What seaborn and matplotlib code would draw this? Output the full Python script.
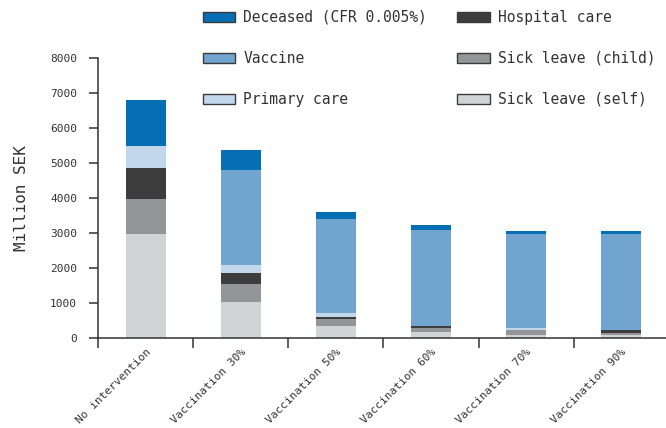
import matplotlib
matplotlib.use("Agg")
import matplotlib.pyplot as plt
from matplotlib.patches import Patch
from matplotlib.ticker import FixedLocator
import numpy as np
import seaborn as sns

categories = ["No intervention", "Vaccination 30%", "Vaccination 50%",
              "Vaccination 60%", "Vaccination 70%", "Vaccination 90%"]
# stacking order bottom -> top
sick_self = [2970, 1030, 343, 171, 86, 86]
sick_child = [1000, 513, 200, 115, 143, 57]
hospital = [886, 314, 57, 57, 0, 86]
primary = [629, 238, 114, 0, 57, 0]
vaccine = [0, 2705, 2686, 2743, 2685, 2742]
deceased = [1315, 571, 200, 143, 86, 86]

series_names = ["Sick leave (self)", "Sick leave (child)", "Hospital care",
                "Primary care", "Vaccine", "Deceased (CFR 0.005%)"]
series_values = [sick_self, sick_child, hospital, primary, vaccine, deceased]
series_colors = ["#d1d3d5", "#939598", "#3d3d3d", "#c2d7ec", "#71a5d0", "#066eb2"]

sns.set_theme(style="white")
plt.rcParams["font.family"] = ["DejaVu Sans Mono"]

fig = plt.figure(figsize=(6.66, 4.28), dpi=100)
ax = fig.add_axes([98 / 666, 90 / 428, 571 / 666, 280 / 428])

cum = np.cumsum(np.array(series_values, dtype=float), axis=0)
# draw from top-most cumulative to bottom so lower segments overlay
for i in range(len(series_names) - 1, -1, -1):
    sns.barplot(x=categories, y=cum[i], color=series_colors[i], saturation=1,
                width=0.42, errorbar=None, ax=ax, linewidth=0)

ax.set_xlim(-0.5, 5.5)
ax.set_ylim(0, 8000)
ax.set_yticks(np.arange(0, 8001, 1000))
ax.set_ylabel("Million SEK", fontsize=11.5, color="#333333", labelpad=15.5)
ax.set_xlabel("")

ax.xaxis.set_major_locator(FixedLocator(range(len(categories))))
ax.set_xticklabels(categories, rotation=45, ha="right", rotation_mode="anchor",
                   fontsize=8, color="#333333")
ax.xaxis.set_minor_locator(FixedLocator(np.arange(-0.5, 6.0, 1.0)))
ax.tick_params(axis="x", which="major", length=0, pad=6.5)
ax.tick_params(axis="x", which="minor", length=7.5, width=1.1, color="#333333",
               direction="out", bottom=True)
ax.tick_params(axis="y", which="major", length=6.5, width=1.1, color="#333333",
               direction="out", left=True, labelsize=8, labelcolor="#333333", pad=8.5)

for s in ["top", "right"]:
    ax.spines[s].set_visible(False)
for s in ["left", "bottom"]:
    ax.spines[s].set_color("#333333")
    ax.spines[s].set_linewidth(1.1)

order = [5, 4, 3, 2, 1, 0]
handles = [Patch(facecolor=series_colors[i], edgecolor="#3a3a3a", linewidth=1.0,
                 label=series_names[i]) for i in order]
fig.legend(handles=handles, ncol=2, loc="upper left",
           bbox_to_anchor=(203 / 666, 1 - 10 / 428), frameon=False,
           fontsize=10.5, handlelength=2.2, handleheight=0.7, handletextpad=0.55,
           columnspacing=2.1, labelspacing=1.78, borderpad=0, borderaxespad=0,
           labelcolor="#333333")

fig.savefig("out.png", dpi=100)
